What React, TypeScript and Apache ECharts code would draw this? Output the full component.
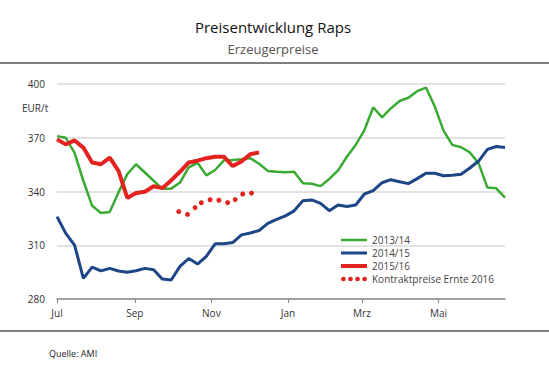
import React, { useEffect, useRef } from "react";
import * as echarts from "echarts";

// Weekly producer prices (EUR/t), week 0 = beginning of July
const WEEK_DAYS = 7;
const s2013_14 = [
  370.9, 370, 361.5, 346, 332, 328, 328.5, 339.5, 349.7, 355.2,
  350.6, 346, 341.5, 341.6, 345, 353.5, 356, 349, 352, 357.4,
  357.6, 358, 358.6, 355.5, 351.5, 351, 350.8, 351, 344.6, 344.3,
  343, 347, 351.8, 359.4, 366, 374.3, 387, 381.4, 386.4, 390.5,
  392.3, 396, 398, 387.5, 374, 366, 364.7, 361.8, 355.7, 342.2,
  341.8, 336.6,
];
const s2014_15 = [
  326, 316.6, 310.1, 291.5, 297.8, 295.7, 297.1, 295.6, 294.9, 295.8,
  297.1, 296.3, 291.1, 290.6, 298.2, 302.6, 299.5, 303.8, 310.8, 310.8,
  311.5, 315.8, 316.8, 318.2, 322.2, 324.4, 326.4, 329.2, 334.9, 335.3,
  333.4, 329.3, 332.5, 331.6, 332.5, 338.6, 340.5, 344.9, 346.6, 345.4,
  344.4, 347.2, 350.2, 350.2, 348.8, 349.1, 349.6, 353.1, 357, 363.5,
  365.1, 364.6,
];
const s2015_16 = [
  369.1, 366.3, 368.5, 364.5, 356.2, 355.2, 358.9, 351.5, 336.4, 339.2,
  339.9, 342.9, 341.9, 346.2, 351, 356.2, 357.2, 358.6, 359.4, 359.4,
  354.2, 356.8, 360.8, 361.8,
];
// Contract prices harvest 2016 (day since 1 July, value)
const contractDays = [97, 104, 110, 115, 122, 129, 136, 142, 148, 155];
const contractValues = [328.8, 327.2, 331, 333.7, 335.4, 335.1, 333.8, 335.5, 338.6, 339.1];

const monthLabels = ["Jul", "Sep", "Nov", "Jan", "Mrz", "Mai"];
const monthDays = [0, 62, 123, 184, 243, 304];

const seriesNames = ["2013/14", "2014/15", "2015/16", "Kontraktpreise Ernte 2016"];
const colors = ["#3aaa35", "#1c4685", "#e42320", "#e42320"];
const lineWidths = [2.5, 3, 4];

const toPoints = (arr: number[]) => arr.map((v, i) => [i * WEEK_DAYS, v]);

const barIcon = (h: number) => `path://M0,0H26V${h}H0Z`;
const dotsIcon =
  "path://M0,2a2,2 0 1,0 4,0a2,2 0 1,0 -4,0Z M6,2a2,2 0 1,0 4,0a2,2 0 1,0 -4,0Z M12,2a2,2 0 1,0 4,0a2,2 0 1,0 -4,0Z M18,2a2,2 0 1,0 4,0a2,2 0 1,0 -4,0Z";

export default function App() {
  const ref = useRef<HTMLDivElement>(null);
  useEffect(() => {
    if (!ref.current) return;
    const chart = echarts.init(ref.current, null, { renderer: "svg" });
    const font = "'Open Sans', 'Noto Sans', sans-serif";
    chart.setOption({
      animation: false,
      textStyle: { fontFamily: font },
      title: {
        text: "Preisentwicklung Raps",
        subtext: "Erzeugerpreise",
        left: 268,
        textAlign: "center",
        top: 13,
        itemGap: 5,
        textStyle: { fontFamily: font, fontSize: 15, fontWeight: "normal", color: "#111", lineHeight: 18 },
        subtextStyle: { fontFamily: font, fontSize: 13, color: "#555", lineHeight: 16 },
      },
      grid: { left: 57, right: 44, top: 84, bottom: 77, containLabel: false },
      legend: {
        orient: "vertical",
        left: 336,
        top: 230,
        itemWidth: 26,
        itemHeight: 14,
        itemGap: 3,
        textStyle: { fontFamily: font, fontSize: 10, color: "#444" },
        data: [
          { name: seriesNames[0], icon: barIcon(lineWidths[0]) },
          { name: seriesNames[1], icon: barIcon(lineWidths[1]) },
          { name: seriesNames[2], icon: barIcon(lineWidths[2]) },
          { name: seriesNames[3], icon: dotsIcon },
        ],
      },
      xAxis: {
        type: "value",
        min: 0,
        max: 357,
        axisLine: { show: true, lineStyle: { color: "#8c8c8c", width: 1.5 } },
        axisTick: { show: true, customValues: monthDays, length: 4, lineStyle: { color: "#8c8c8c", width: 1 } },
        axisLabel: {
          customValues: monthDays,
          formatter: (v: number) => {
            const idx = monthDays.indexOf(Math.round(v));
            return idx >= 0 ? monthLabels[idx] : "";
          },
          fontFamily: font,
          fontSize: 10,
          color: "#333",
          margin: 9,
        },
        splitLine: { show: false },
      },
      yAxis: {
        type: "value",
        min: 280,
        max: 400,
        interval: 30,
        axisLine: { show: false },
        axisTick: { show: false },
        axisLabel: { fontFamily: font, fontSize: 10, color: "#333", margin: 12 },
        splitLine: { lineStyle: { color: "#d9d9d9", width: 1.5 } },
      },
      graphic: [
        { type: "line", shape: { x1: 0, y1: 63, x2: 549, y2: 63 }, style: { stroke: "#555", lineWidth: 1.5 } },
        { type: "line", shape: { x1: 0, y1: 331, x2: 549, y2: 331 }, style: { stroke: "#555", lineWidth: 1.5 } },
        {
          type: "text",
          x: 22,
          y: 108,
          style: { text: "EUR/t", fontFamily: font, fontSize: 10, fill: "#333", verticalAlign: "middle" },
        },
        {
          type: "text",
          x: 49,
          y: 353,
          style: { text: "Quelle: AMI", fontFamily: font, fontSize: 9, fill: "#222", verticalAlign: "middle" },
        },
      ],
      series: [
        {
          name: seriesNames[0],
          type: "line",
          data: toPoints(s2013_14),
          symbol: "none",
          lineStyle: { color: colors[0], width: lineWidths[0] },
          itemStyle: { color: colors[0] },
        },
        {
          name: seriesNames[1],
          type: "line",
          data: toPoints(s2014_15),
          symbol: "none",
          lineStyle: { color: colors[1], width: lineWidths[1] },
          itemStyle: { color: colors[1] },
        },
        {
          name: seriesNames[2],
          type: "line",
          data: toPoints(s2015_16),
          symbol: "none",
          lineStyle: { color: colors[2], width: lineWidths[2] },
          itemStyle: { color: colors[2] },
        },
        {
          name: seriesNames[3],
          type: "scatter",
          data: contractDays.map((d, i) => [d, contractValues[i]]),
          symbol: "circle",
          symbolSize: 5,
          itemStyle: { color: colors[3], opacity: 1 },
        },
      ],
    });
    return () => chart.dispose();
  }, []);
  return (
    <div
      ref={ref}
      style={{ position: "fixed", left: 0, top: 0, width: 549, height: 376, background: "#fff" }}
    />
  );
}
